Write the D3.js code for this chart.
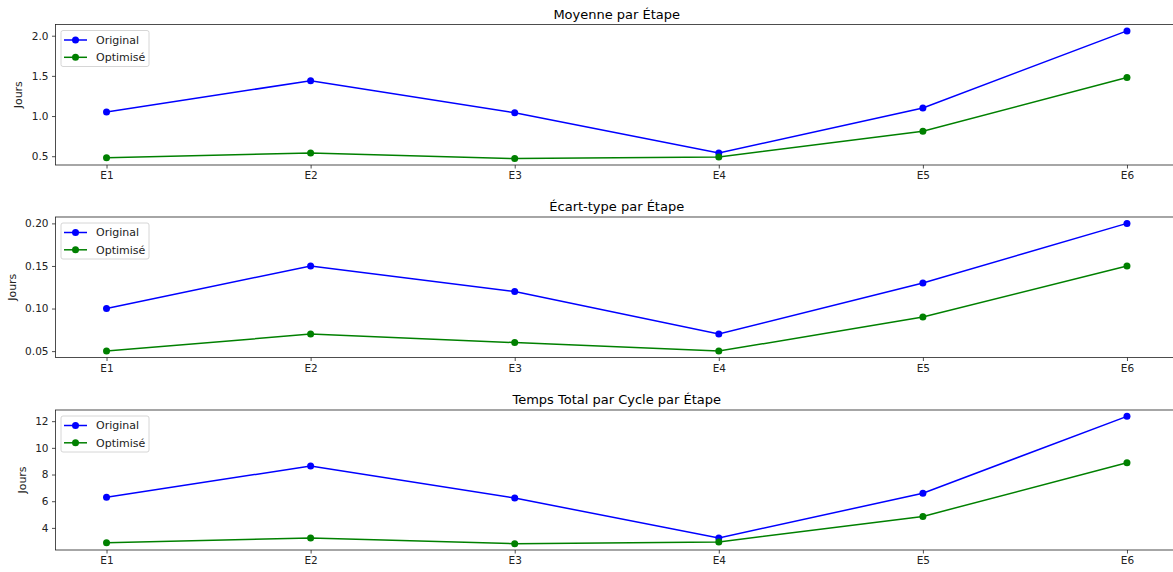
<!DOCTYPE html>
<html>
<head>
<meta charset="utf-8">
<script src="https://cdn.jsdelivr.net/npm/d3@7"></script>
<style>
  body { margin: 0; background: #fff; }
  svg { font-family: "DejaVu Sans", sans-serif; display: block; }
</style>
</head>
<body>
<svg width="1173" height="572"></svg>
<script>
// Data
var etapes = ["E1", "E2", "E3", "E4", "E5", "E6"];
var moyenneOriginal = [1.05, 1.44, 1.04, 0.54, 1.10, 2.06];
var moyenneOptimise = [0.48, 0.54, 0.47, 0.49, 0.81, 1.48];
var ecartOriginal = [0.10, 0.15, 0.12, 0.07, 0.13, 0.20];
var ecartOptimise = [0.05, 0.07, 0.06, 0.05, 0.09, 0.15];
var totalOriginal = [6.30, 8.64, 6.24, 3.24, 6.60, 12.36];
var totalOptimise = [2.88, 3.24, 2.82, 2.94, 4.86, 8.88];
var seriesNames = ["Original", "Optimisé"];
var colors = ["#0000ff", "#008000"];

var panels = [
  {title: "Moyenne par Étape", data: [moyenneOriginal, moyenneOptimise], ticks: [0.5, 1.0, 1.5, 2.0], fmt: d3.format(".1f"), top: 24.5, bottom: 165, labelX: 18},
  {title: "Écart-type par Étape", data: [ecartOriginal, ecartOptimise], ticks: [0.05, 0.10, 0.15, 0.20], fmt: d3.format(".2f"), top: 217, bottom: 357.5, labelX: 12},
  {title: "Temps Total par Cycle par Étape", data: [totalOriginal, totalOptimise], ticks: [4, 6, 8, 10, 12], fmt: d3.format("d"), top: 410, bottom: 550, labelX: 22}
];

const svg = d3.select('svg');
var left = 55.5, right = 1178;

// x scale, matplotlib style 5% margins
const xScale = d3.scaleLinear().domain([-0.25, 5.25]).range([left, right]);

panels.forEach(function(p) {
  var all = p.data[0].concat(p.data[1]);
  var mn = d3.min(all), mx = d3.max(all), pad = (mx - mn) * 0.05;
  var yScale = d3.scaleLinear().domain([mn - pad, mx + pad]).range([p.bottom, p.top]);

  var g = svg.append('g');

  // lines + markers
  p.data.forEach(function(vals, si) {
    var line = d3.line().x((d, i) => xScale(i)).y(d => yScale(d));
    g.append('path').datum(vals)
      .attr('d', line)
      .attr('fill', 'none')
      .attr('stroke', colors[si])
      .attr('stroke-width', 1.5);
    g.selectAll('.m' + si).data(vals).enter().append('circle')
      .attr('cx', (d, i) => xScale(i))
      .attr('cy', d => yScale(d))
      .attr('r', 3.5)
      .attr('fill', colors[si]);
  });

  // axes
  var xAxis = d3.axisBottom(xScale).tickValues(d3.range(etapes.length))
    .tickFormat(i => etapes[i]).tickSize(3.5).tickPadding(3.5);
  var yAxis = d3.axisLeft(yScale).tickValues(p.ticks).tickFormat(p.fmt)
    .tickSize(3.5).tickPadding(3.5);

  var gx = g.append('g').attr('transform', 'translate(0,' + p.bottom + ')').call(xAxis);
  var gy = g.append('g').attr('transform', 'translate(' + left + ',0)').call(yAxis);
  [gx, gy].forEach(function(a) {
    a.select('.domain').remove();
    a.selectAll('text').attr('font-size', 10.5).attr('fill', '#222').attr('font-family', '"DejaVu Sans", sans-serif');
    a.selectAll('line').attr('stroke', '#222').attr('stroke-width', 0.8);
  });

  // frame
  g.append('rect')
    .attr('x', left).attr('y', p.top)
    .attr('width', right - left).attr('height', p.bottom - p.top)
    .attr('fill', 'none').attr('stroke', '#222').attr('stroke-width', 0.8);

  // title
  g.append('text')
    .attr('x', (left + right) / 2).attr('y', p.top - 6)
    .attr('text-anchor', 'middle').attr('font-size', 13).attr('fill', '#000')
    .text(p.title);

  // y label
  g.append('text')
    .attr('transform', 'translate(' + p.labelX + ',' + ((p.top + p.bottom) / 2) + ') rotate(-90)')
    .attr('text-anchor', 'middle').attr('font-size', 11).attr('fill', '#222')
    .attr('dy', '0.35em')
    .text('Jours');

  // legend
  var lx = left + 5.5, ly = p.top + 6;
  g.append('rect')
    .attr('x', lx).attr('y', ly).attr('width', 88).attr('height', 36).attr('rx', 2)
    .attr('fill', '#fff').attr('fill-opacity', 0.8)
    .attr('stroke', '#ccc').attr('stroke-width', 0.8);
  seriesNames.forEach(function(name, si) {
    var yy = ly + 9.5 + si * 17.3;
    g.append('line')
      .attr('x1', lx + 3).attr('x2', lx + 26).attr('y1', yy).attr('y2', yy)
      .attr('stroke', colors[si]).attr('stroke-width', 1.5);
    g.append('circle').attr('cx', lx + 14.5).attr('cy', yy).attr('r', 3.5).attr('fill', colors[si]);
    g.append('text')
      .attr('x', lx + 35).attr('y', yy).attr('dy', '0.35em')
      .attr('font-size', 11).attr('fill', '#222')
      .text(name);
  });
});
</script>
</body>
</html>
